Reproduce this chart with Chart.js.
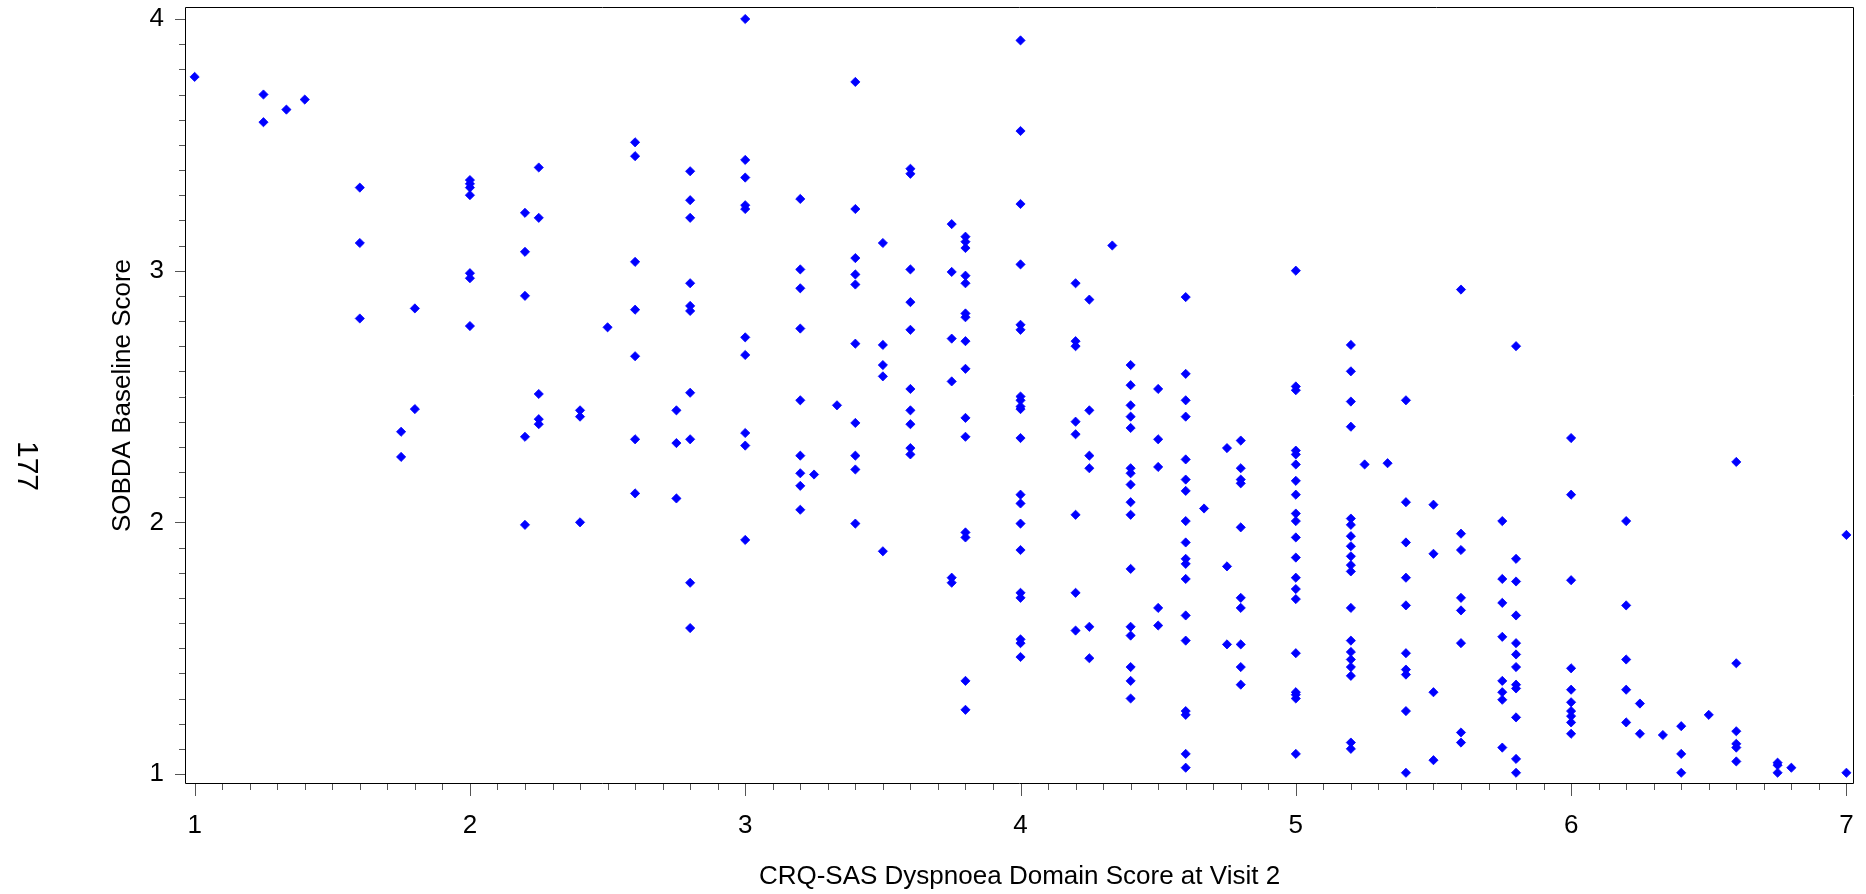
<!DOCTYPE html>
<html>
<head>
<meta charset="utf-8">
<script src="https://cdn.jsdelivr.net/npm/chart.js@4.4.1/dist/chart.umd.min.js"></script>
<style>
html,body{margin:0;padding:0;background:#ffffff;}
#wrap{position:relative;width:1866px;height:894px;}
</style>
</head>
<body>
<div id="wrap"><canvas id="c" width="1866" height="894"></canvas></div>
<script>
// ---- data ----
const xAxisTitle = 'CRQ-SAS Dyspnoea Domain Score at Visit 2';
const yAxisTitle = 'SOBDA Baseline Score';
const pageNumber = '177';
const xTickValues = [1, 2, 3, 4, 5, 6, 7];
const yTickValues = [1, 2, 3, 4];

// CRQ-SAS dyspnoea score levels (x)
const xLevels = [1, 1.25, 4/3, 1.4, 1.6, 1.75, 1.8, 2, 2.2, 2.25, 2.4, 2.5, 2.6, 2.75, 2.8,
  3, 3.2, 3.25, 10/3, 3.4, 3.5, 3.6, 3.75, 3.8, 4, 4.2, 4.25, 13/3, 4.4, 4.5, 4.6, 14/3,
  4.75, 4.8, 5, 5.2, 5.25, 16/3, 5.4, 5.5, 5.6, 5.75, 5.8, 6, 6.2, 6.25, 19/3, 6.4, 6.5,
  6.6, 6.75, 6.8, 7];

// SOBDA baseline scores observed at each x level (same order as xLevels)
const sobdaByLevel = [
  [3.77],
  [3.70, 3.59],
  [3.64],
  [3.68],
  [3.33, 3.11, 2.81],
  [2.36, 2.26],
  [2.85, 2.45],
  [3.36, 3.345, 3.33, 3.30, 2.99, 2.97, 2.78],
  [3.23, 3.075, 2.90, 2.34, 1.99],
  [3.41, 3.21, 2.51, 2.41, 2.39],
  [2.445, 2.42, 2.00],
  [2.775],
  [3.51, 3.455, 3.035, 2.845, 2.66, 2.33, 2.115],
  [2.445, 2.315, 2.095],
  [3.395, 3.28, 3.21, 2.95, 2.86, 2.84, 2.515, 2.33, 1.76, 1.58],
  [4.0, 3.44, 3.37, 3.26, 3.245, 2.735, 2.665, 2.355, 2.305, 1.93],
  [3.285, 3.005, 2.93, 2.77, 2.485, 2.265, 2.195, 2.145, 2.05],
  [2.19],
  [2.465],
  [3.75, 3.245, 3.05, 2.985, 2.945, 2.71, 2.395, 2.265, 2.21, 1.995],
  [3.11, 2.705, 2.625, 2.58, 1.885],
  [3.405, 3.385, 3.005, 2.875, 2.765, 2.53, 2.445, 2.39, 2.295, 2.27],
  [3.185, 2.995, 2.73, 2.56, 1.78, 1.76],
  [3.135, 3.115, 3.09, 2.98, 2.95, 2.83, 2.815, 2.72, 2.61, 2.415, 2.34, 1.96, 1.94, 1.37, 1.255],
  [3.915, 3.555, 3.265, 3.025, 2.785, 2.765, 2.50, 2.485, 2.46, 2.45, 2.335, 2.11, 2.075, 1.995, 1.89, 1.72, 1.70, 1.535, 1.52, 1.465],
  [2.95, 2.72, 2.70, 2.40, 2.35, 2.03, 1.72, 1.57],
  [2.885, 2.445, 2.265, 2.215, 1.585, 1.46],
  [3.10],
  [2.625, 2.545, 2.465, 2.42, 2.375, 2.215, 2.195, 2.15, 2.08, 2.03, 1.815, 1.585, 1.55, 1.425, 1.37, 1.30],
  [2.53, 2.33, 2.22, 1.66, 1.59],
  [2.895, 2.59, 2.485, 2.42, 2.25, 2.17, 2.125, 2.005, 1.92, 1.855, 1.835, 1.775, 1.63, 1.53, 1.25, 1.235, 1.08, 1.025],
  [2.055],
  [2.295, 1.825, 1.515],
  [2.325, 2.215, 2.17, 2.155, 1.98, 1.70, 1.66, 1.515, 1.425, 1.355],
  [3.00, 2.54, 2.525, 2.285, 2.27, 2.23, 2.165, 2.11, 2.035, 2.005, 1.94, 1.86, 1.78, 1.735, 1.695, 1.48, 1.325, 1.315, 1.30, 1.08],
  [2.705, 2.60, 2.48, 2.38, 2.015, 1.99, 1.945, 1.905, 1.865, 1.83, 1.805, 1.66, 1.53, 1.485, 1.455, 1.425, 1.39, 1.125, 1.10],
  [2.23],
  [2.235],
  [2.485, 2.08, 1.92, 1.78, 1.67, 1.48, 1.415, 1.395, 1.25, 1.005],
  [2.07, 1.875, 1.325, 1.055],
  [2.925, 1.955, 1.89, 1.70, 1.65, 1.52, 1.165, 1.125],
  [2.005, 1.775, 1.68, 1.545, 1.37, 1.325, 1.295, 1.105],
  [2.70, 1.855, 1.765, 1.63, 1.52, 1.475, 1.425, 1.355, 1.34, 1.225, 1.06, 1.005],
  [2.335, 2.11, 1.77, 1.42, 1.335, 1.285, 1.25, 1.23, 1.205, 1.16],
  [2.005, 1.67, 1.455, 1.335, 1.205],
  [1.28, 1.16],
  [1.155],
  [1.19, 1.08, 1.005],
  [1.235],
  [2.24, 1.44, 1.17, 1.12, 1.105, 1.05],
  [1.045, 1.035, 1.005],
  [1.025],
  [1.95, 1.005]
];

// ---- build points ----
const points = [];
xLevels.forEach((xv, i) => {
  sobdaByLevel[i].forEach(yv => points.push({x: xv, y: yv}));
});

const FONT = '"Liberation Sans", Arial, Helvetica, sans-serif';
const TICK_COLOR = '#555555';

const framePlugin = {
  id: 'frameAndTicks',
  beforeDatasetsDraw(chart) {
    const {ctx, chartArea: ca, scales: {x, y}} = chart;
    ctx.save();
    ctx.lineWidth = 1;
    ctx.strokeStyle = TICK_COLOR;
    ctx.beginPath();
    for (let k = 10; k <= 70; k++) {
      const px = Math.round(x.getPixelForValue(k / 10)) + 0.5;
      const len = (k % 10 === 0) ? 12 : 6;
      ctx.moveTo(px, ca.bottom);
      ctx.lineTo(px, ca.bottom + len);
    }
    for (let k = 10; k <= 40; k++) {
      const py = Math.round(y.getPixelForValue(k / 10)) + 0.5;
      const len = (k % 10 === 0) ? 10 : 6;
      ctx.moveTo(ca.left, py);
      ctx.lineTo(ca.left - len, py);
    }
    ctx.stroke();
    ctx.strokeStyle = '#000000';
    ctx.beginPath();
    ctx.rect(Math.round(ca.left) + 0.5, Math.round(ca.top) + 0.5,
             Math.round(ca.right - ca.left) - 1, Math.round(ca.bottom - ca.top) - 1);
    ctx.stroke();
    ctx.restore();
  },
  afterDraw(chart) {
    const {ctx} = chart;
    ctx.save();
    ctx.translate(26, 466);
    ctx.rotate(Math.PI / 2);
    ctx.font = '30px ' + FONT;
    ctx.fillStyle = '#000';
    ctx.textAlign = 'center';
    ctx.textBaseline = 'middle';
    ctx.fillText(pageNumber, 0, 0);
    ctx.restore();
  }
};

new Chart(document.getElementById('c'), {
  type: 'scatter',
  data: {
    datasets: [{
      data: points,
      pointStyle: 'rectRot',
      pointRadius: 4.6,
      pointBorderWidth: 0.8,
      backgroundColor: '#0000FF',
      borderColor: '#0000FF'
    }]
  },
  options: {
    responsive: false,
    animation: false,
    devicePixelRatio: 1,
    layout: {padding: {left: 0, top: 7, right: 12, bottom: 0}},
    plugins: {legend: {display: false}, tooltip: {enabled: false}, title: {display: false}},
    scales: {
      x: {
        type: 'linear',
        min: 0.965,
        max: 7.0276,
        afterBuildTicks: s => { s.ticks = xTickValues.map(v => ({value: v})); },
        afterFit: s => { s.height = 110; s.paddingLeft = 0; s.paddingRight = 0; },
        grid: {display: false, drawTicks: false},
        border: {display: false},
        ticks: {
          font: {family: FONT, size: 26},
          color: '#000',
          padding: 26,
          maxRotation: 0,
          autoSkip: false,
          callback: v => String(v)
        },
        title: {
          display: true,
          text: xAxisTitle,
          font: {family: FONT, size: 26},
          color: '#000',
          padding: {top: 0, bottom: 2}
        }
      },
      y: {
        type: 'linear',
        min: 0.9603,
        max: 4.0477,
        afterBuildTicks: s => { s.ticks = yTickValues.map(v => ({value: v})); },
        afterFit: s => { s.width = 185; s.paddingTop = 0; s.paddingBottom = 0; },
        grid: {display: false, drawTicks: false},
        border: {display: false},
        ticks: {
          font: {family: FONT, size: 26},
          color: '#000',
          padding: 21,
          autoSkip: false,
          callback: v => String(v)
        },
        title: {
          display: true,
          text: yAxisTitle,
          font: {family: FONT, size: 26},
          color: '#000',
          padding: {top: 107, bottom: 0}
        }
      }
    }
  },
  plugins: [framePlugin]
});
</script>
</body>
</html>
